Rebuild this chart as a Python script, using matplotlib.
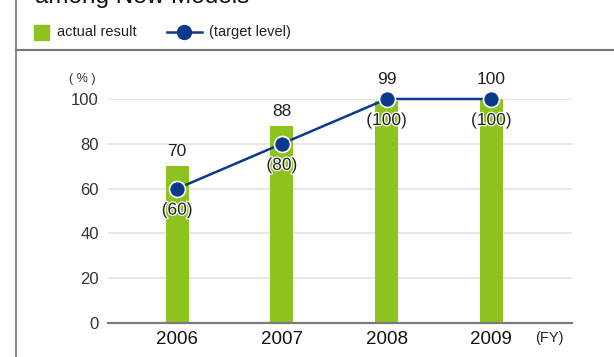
import matplotlib
matplotlib.use("Agg")
import matplotlib.pyplot as plt
import matplotlib.patheffects as pe
from matplotlib.lines import Line2D
from matplotlib.patches import Rectangle

plt.rcParams['font.family'] = ['Liberation Sans', 'DejaVu Sans']

# données
annees = ["2006", "2007", "2008", "2009"]
resultat = [70, 88, 99, 100]   # actual result (%)
objectif = [60, 80, 100, 100]  # target level (%)
graduations = [0, 20, 40, 60, 80, 100]

vert = "#8dc21f"
bleu = "#0b3a8a"

fig = plt.figure(figsize=(6.14, 3.57), dpi=100)
ax = fig.add_axes([108/614, 1 - 323/357, 464/614, 224/357])

x = list(range(len(annees)))
ax.bar(x, resultat, width=0.22, color=vert, zorder=2)
ax.plot(x, objectif, color=bleu, lw=1.8, marker="o", markersize=11.5,
        markerfacecolor=bleu, markeredgecolor="white", markeredgewidth=1.2,
        zorder=3, clip_on=False)

halo = [pe.withStroke(linewidth=1.8, foreground="white")]
for xi, r, t in zip(x, resultat, objectif):
    # valeur réalisée au-dessus de la barre (ou du point s'il est proche)
    decal = 9 if abs(t - r) < 5 else 5
    ax.annotate(str(r), (xi, max(r, t)), xytext=(0, decal), textcoords="offset points",
                ha="center", va="bottom", fontsize=12.5, color="#222222")
    # objectif entre parenthèses sous le point
    ax.annotate("(%d)" % t, (xi, t), xytext=(0, -15.5), textcoords="offset points",
                ha="center", va="center", fontsize=12.5, color="#222222",
                path_effects=halo, zorder=4)

ax.set_xlim(-0.66, 3.77)
ax.set_ylim(0, 100)
ax.set_yticks(graduations)
ax.set_xticks(x)
ax.set_xticklabels(annees, fontsize=13.5, color="#111111")
ax.tick_params(axis="y", length=0, pad=6.5, labelsize=12, labelcolor="#333333")
ax.tick_params(axis="x", length=0, pad=6)
ax.yaxis.grid(True, color="#e2e2e2", lw=1.2, zorder=0)
ax.set_axisbelow(True)
for s in ["top", "right", "left"]:
    ax.spines[s].set_visible(False)
ax.spines["bottom"].set_color("#7a7a7a")
ax.spines["bottom"].set_linewidth(1.6)

ax.text(-0.028, 1.09, "( % )", transform=ax.transAxes, ha="right", va="center",
        fontsize=9, color="#333333")
fig.text(549/614, 1 - 338/357, "(FY)", ha="center", va="center", fontsize=10.5,
         color="#222222")

# cadre et titre
fig.add_artist(Line2D([16/614, 16/614], [0, 1], color="#8a8a8a", lw=1.5))
fig.add_artist(Line2D([16/614, 1], [1 - 50/357, 1 - 50/357], color="#777777", lw=1.5))
fig.text(35/614, 1 - 3/357, "among New Models", ha="left", va="baseline",
         fontsize=17.5, color="#111111")

# légende
fig.add_artist(Rectangle((34/614, 1 - 40/357), 15/614, 15/357, color=vert,
                         transform=fig.transFigure))
fig.text(57/614, 1 - 32/357, "actual result", ha="left", va="center", fontsize=10.5,
         color="#222222")
fig.add_artist(Line2D([167/614, 202/614], [1 - 32/357, 1 - 32/357], color=bleu, lw=1.8))
fig.add_artist(Line2D([184/614], [1 - 32/357], color=bleu, marker="o", markersize=10,
                      markeredgecolor=bleu))
fig.text(209/614, 1 - 32/357, "(target level)", ha="left", va="center", fontsize=10.5,
         color="#222222")

fig.savefig("out.png", dpi=100)
